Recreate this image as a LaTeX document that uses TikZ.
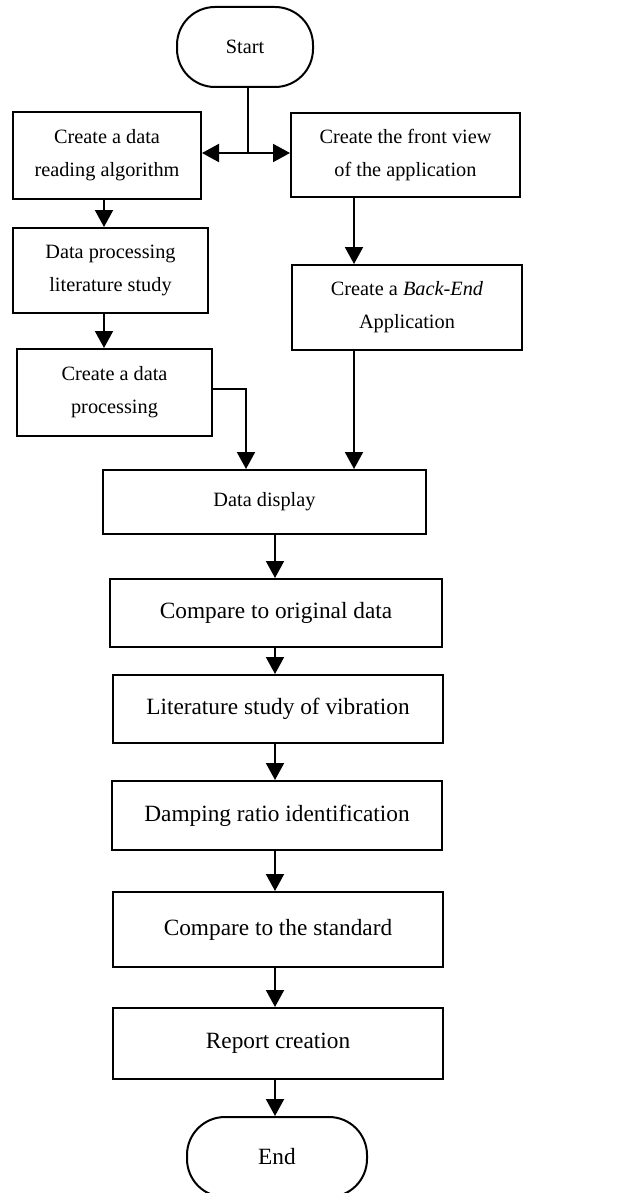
\documentclass[tikz,border=0pt]{standalone}
\usepackage{fontspec}
\setmainfont{Liberation Serif}
\usetikzlibrary{arrows.meta,calc}
\begin{document}
\begin{tikzpicture}[x=1pt,y=-1pt,
  line width=2pt,
  box/.style={draw=black, line width=2pt, align=center, inner sep=2pt, font=\fontsize{20.3}{33}\selectfont},
  bigbox/.style={box, font=\fontsize{23.3}{30}\selectfont},
  term/.style={draw=black, line width=2pt, rounded corners=38pt, align=center},
  arr/.style={-{Triangle[length=17pt,width=18pt]}}]
\useasboundingbox (0,0) rectangle (622,1193);
\clip (0,0) rectangle (622,1193);
\node[term, minimum width=136pt, minimum height=80pt, font=\fontsize{20.3}{24}\selectfont] (start) at (245,47) {Start};
\node[box, minimum width=188pt, minimum height=87pt] (b1) at (107,155.5) {Create a data\\reading algorithm};
\node[box, minimum width=229pt, minimum height=84pt] (b2) at (405.5,155) {Create the front view\\of the application};
\node[box, minimum width=195pt, minimum height=85pt] (b3) at (110.5,270.5) {Data processing\\literature study};
\node[box, minimum width=230pt, minimum height=85pt] (b4) at (407,307.5) {Create a \textit{Back-End}\\Application};
\node[box, minimum width=195pt, minimum height=87pt] (b5) at (114.5,392.5) {Create a data\\processing};
\node[box, minimum width=323pt, minimum height=64pt] (disp) at (264.5,502) {Data display};
\node[bigbox, minimum width=332pt, minimum height=68pt] (cmp) at (276,613) {Compare to original data};
\node[bigbox, minimum width=330pt, minimum height=68pt] (lit) at (278,709) {Literature study of vibration};
\node[bigbox, minimum width=330pt, minimum height=69pt] (damp) at (277,815.5) {Damping ratio identification};
\node[bigbox, minimum width=330pt, minimum height=75pt] (std) at (278,929.5) {Compare to the standard};
\node[bigbox, minimum width=330pt, minimum height=71pt] (rep) at (278,1043.5) {Report creation};
\node[term, minimum width=180pt, minimum height=80pt, font=\fontsize{23.3}{28}\selectfont] (end) at (277,1157) {End};
\coordinate (j) at (248,153);
\coordinate (xr) at (354,0);
\coordinate (xm) at (246,0);
\coordinate (xl) at (104,0);
\coordinate (xc) at (275,0);
\draw (start.south -| j) -- (j);
\draw[arr] (j) -- (j -| b1.east);
\draw[arr] (j) -- (j -| b2.west);
\draw[arr] (b1.south -| xl) -- (b3.north -| xl);
\draw[arr] (b3.south -| xl) -- (b5.north -| xl);
\draw[arr] (b2.south -| xr) -- (b4.north -| xr);
\draw[arr] (b4.south -| xr) -- (disp.north -| xr);
\draw[arr] ([yshift=4pt]b5.east) -| (disp.north -| xm);
\draw[arr] (disp.south -| xc) -- (cmp.north -| xc);
\draw[arr] (cmp.south -| xc) -- (lit.north -| xc);
\draw[arr] (lit.south -| xc) -- (damp.north -| xc);
\draw[arr] (damp.south -| xc) -- (std.north -| xc);
\draw[arr] (std.south -| xc) -- (rep.north -| xc);
\draw[arr] (rep.south -| xc) -- (end.north -| xc);
\end{tikzpicture}
\end{document}
